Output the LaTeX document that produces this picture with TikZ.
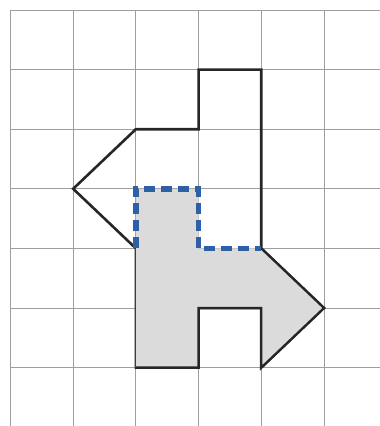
\documentclass[tikz,border=0pt]{standalone}
\begin{document}
\begin{tikzpicture}[x=62.7pt,y=-59.6pt,
  gridline/.style={draw=black!38,line width=0.9pt},
  outline/.style={draw=black!85,line width=2.6pt,line join=miter},
  shade/.style={fill=black!14},
  bluedash/.style={draw=blueline,line width=5.5pt,dash pattern=on 11pt off 6pt}]
\definecolor{blueline}{RGB}{47,95,165}
\useasboundingbox (-0.167,-0.168) rectangle (5.893,6.98);
% grid
\foreach \i in {0,...,5} \draw[gridline] (\i,0) -- (\i,6.98);
\foreach \j in {0,...,6} \draw[gridline] (0,\j) -- (5.893,\j);
% outline
\draw[outline] (3,1) -- (4,1) -- (4,4) -- (5,5) -- (4,6) -- (4,5) -- (3,5) -- (3,6) -- (2,6) -- (2,4) -- (1,3) -- (2,2) -- (3,2) -- cycle;
% shaded region
\fill[shade] (2,3) -- (3,3) -- (3,4) -- (4,4) -- (5,5) -- (4,6) -- (4,5) -- (3,5) -- (3,6) -- (2,6) -- cycle;
\draw[outline,line width=2.2pt] (4,4) -- (5,5) -- (4,6) -- (4,5) -- (3,5) -- (3,6) -- (2,6);
% dashed boundary
\draw[bluedash] (2,4) -- (2,3) -- (3,3) -- (3,4) -- (4,4);
\end{tikzpicture}
\end{document}
